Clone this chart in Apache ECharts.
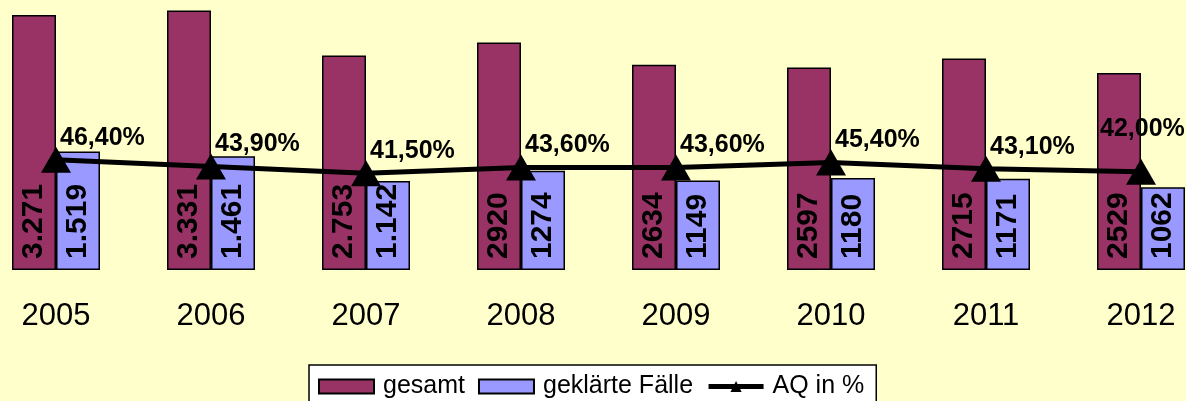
<!DOCTYPE html>
<html>
<head>
<meta charset="utf-8">
<script src="https://cdn.jsdelivr.net/npm/echarts@6/dist/echarts.min.js"></script>
<style>
  html, body { margin: 0; padding: 0; background: #FFFFCC; }
  #chart { width: 1186px; height: 401px; }
</style>
</head>
<body>
<div id="chart"></div>
<script>
// Jahre und Werte
var jahre = ['2005', '2006', '2007', '2008', '2009', '2010', '2011', '2012'];
var gesamt = [3271, 3331, 2753, 2920, 2634, 2597, 2715, 2529];
var geklaert = [1519, 1461, 1142, 1274, 1149, 1180, 1171, 1062];
var aq = [46.4, 43.9, 41.5, 43.6, 43.6, 45.4, 43.1, 42.0];

var font = 'Arial, "Liberation Sans", sans-serif';

// erste drei Jahre mit Tausenderpunkt, wie im Original
function zahl(v, i) {
  var s = String(v);
  if (i < 3) s = s.slice(0, s.length - 3) + '.' + s.slice(-3);
  return s;
}

var barLabel = {
  show: true,
  position: 'insideBottom',
  rotate: 90,
  align: 'left',
  verticalAlign: 'middle',
  distance: 11,
  color: '#000',
  fontFamily: font,
  fontWeight: 'bold',
  fontSize: 30
};

var aqData = aq.map(function (v, i) {
  var d = { value: v };
  if (i === aq.length - 1) {
    d.label = { position: [-26, -30] };
  }
  return d;
});

var chart = echarts.init(document.getElementById('chart'));
chart.setOption({
  backgroundColor: '#FFFFCC',
  animation: false,
  grid: { left: -21.5, right: -32.5, top: 5, bottom: 131, outerBoundsMode: 'none', containLabel: false },
  legend: {
    left: 309,
    top: 365,
    itemWidth: 55,
    itemHeight: 14,
    itemGap: 13,
    padding: [9, 12, 8, 9],
    backgroundColor: '#fff',
    borderColor: '#000',
    borderWidth: 1.5,
    textStyle: { fontFamily: font, fontSize: 25, color: '#000', padding: [0, 0, 0, 4] },
    data: [
      { name: 'gesamt', icon: 'rect' },
      { name: 'geklärte Fälle', icon: 'rect' },
      { name: 'AQ in %', lineStyle: { width: 5, color: '#000' }, itemStyle: { color: '#000' } }
    ]
  },
  xAxis: {
    type: 'category',
    data: jahre,
    axisLine: { show: false },
    axisTick: { show: false },
    axisLabel: { margin: 31, fontFamily: font, fontSize: 31, color: '#000' }
  },
  yAxis: [
    { type: 'value', min: 0, max: 3400, show: false },
    { type: 'value', min: 6.2, max: 102.8, show: false }
  ],
  series: [
    {
      name: 'gesamt',
      type: 'bar',
      data: gesamt,
      barWidth: 44,
      barGap: '0%',
      itemStyle: { color: '#993366', borderColor: '#000', borderWidth: 1.5 },
      label: Object.assign({}, barLabel, {
        formatter: function (p) { return zahl(p.value, p.dataIndex); }
      })
    },
    {
      name: 'geklärte Fälle',
      type: 'bar',
      data: geklaert,
      barWidth: 44,
      itemStyle: { color: '#9999FF', borderColor: '#000', borderWidth: 1.5 },
      label: Object.assign({}, barLabel, {
        formatter: function (p) { return zahl(p.value, p.dataIndex); }
      })
    },
    {
      name: 'AQ in %',
      type: 'line',
      yAxisIndex: 1,
      data: aqData,
      symbol: 'triangle',
      symbolSize: [30, 26],
      lineStyle: { color: '#000', width: 5 },
      itemStyle: { color: '#000' },
      z: 5,
      label: {
        show: true,
        position: [19, -9],
        align: 'left',
        verticalAlign: 'middle',
        color: '#000',
        fontFamily: font,
        fontWeight: 'bold',
        fontSize: 25,
        formatter: function (p) { return p.value.toFixed(2).replace('.', ',') + '%'; }
      }
    }
  ]
});
</script>
</body>
</html>
